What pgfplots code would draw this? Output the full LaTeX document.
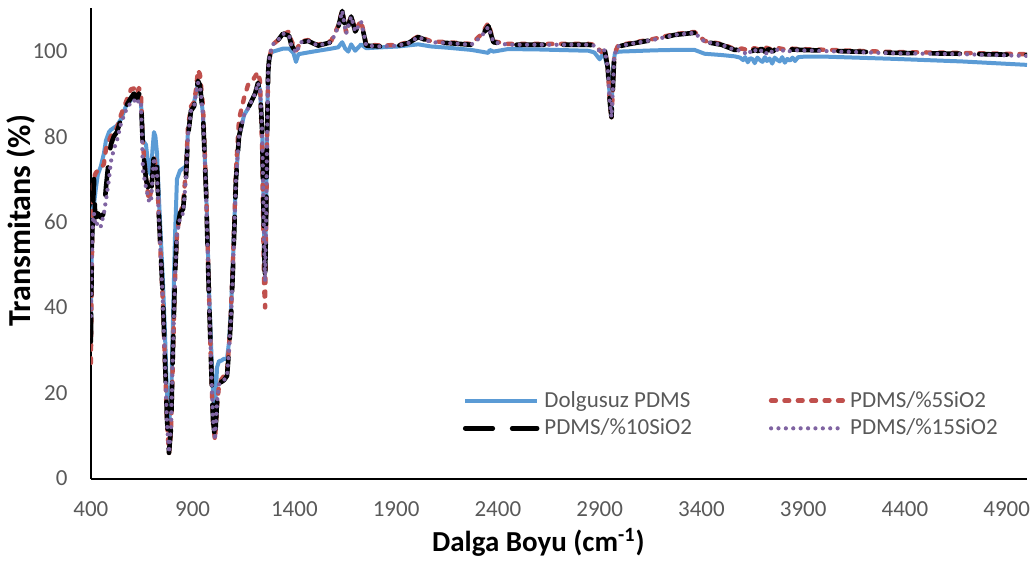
\documentclass[border=0pt]{standalone}
\usepackage{fontspec}
\setmainfont{Carlito}
\usepackage{pgfplots}
\usepackage{pgfplotstable}
\pgfplotsset{compat=1.18}

\definecolor{cBlue}{HTML}{5B9BD5}
\definecolor{cRed}{HTML}{C0504D}
\definecolor{cPurple}{HTML}{8064A2}
\definecolor{cText}{HTML}{595959}

% FTIR spectra: wavenumber (cm^-1) vs. transmittance (%)
\pgfplotstableread{
x y
400 35
405 55
410 63
415 64
420 66
425 68
434 71
449 73
464 76
474 79
489 81
498 81.5
513 82
528 82.5
548 84
572 87
597 88.5
612 89.5
626 89
636 89.5
646 88
656 79
671 78
685 72
695 71
703 77
710 81
717 80
725 76
734 66
744 56
754 46
764 34
774 20
784 13
794 18
803 36
813 56
823 70
838 72
853 72.5
867 73
877 81
892 86
907 88
917 90
926 92.5
936 92
951 85
966 68
980 45
990 32
1000 20
1010 16
1020 26
1030 27.5
1039 27.5
1054 28
1069 28
1079 32
1089 40
1099 52
1113 70
1128 80
1153 85
1172 86.5
1187 88
1207 90
1221 92
1231 91
1241 82
1246 72
1251 58
1256 50
1261 62
1266 82
1271 95
1276 98
1285 99.5
1295 99.8
1344 100.5
1374 100.5
1395 99.5
1408 97.4
1420 99.2
1467 99.6
1517 100
1581 100.5
1615 100.8
1635 102
1650 100.5
1665 99.8
1679 101.5
1699 100
1728 101.5
1753 100.6
1827 100.8
1910 101
2009 101.5
2072 101
2156 100.7
2269 100.2
2318 99.8
2353 99.5
2360 100.2
2378 99.8
2450 100.4
2600 100.3
2845 100
2874 99.6
2900 98
2920 99.5
2940 96
2950 89
2958 86
2966 96
2975 99.5
2997 99.8
3169 100.1
3268 100.2
3366 100.2
3416 99.3
3499 99
3563 98.7
3590 98.4
3605 97.8
3615 98.5
3628 97.3
3640 98.3
3652 98
3662 97.1
3675 98.4
3688 97.8
3700 97.4
3712 98.5
3722 97.6
3735 98.2
3748 97
3760 98.4
3772 97.9
3785 97.5
3797 98.5
3810 97.2
3822 98.1
3835 97.7
3848 98.4
3860 97.6
3875 98.5
3900 98.6
4025 98.6
4350 98.1
4680 97.5
5000 96.7
}\tblPure

\pgfplotstableread{
x y
400 27
405 50
410 68
415 70
420 71
425 71.5
434 72
449 72.5
464 73.5
474 77
489 79
498 80
513 81
528 82
548 85
572 88
597 91
612 91.2
626 90
636 91.3
646 90
656 78
671 70
685 65
695 67
710 75
725 72
734 61
744 51
754 41
764 27
774 13
784 6
794 11
803 28
813 46
823 57
838 62
853 64
867 72
877 82
892 87
907 88
917 91
926 95.5
936 94.5
951 87
966 68
980 44
990 27
1000 13
1010 9
1020 17
1030 22
1039 23
1054 24
1069 25
1079 31
1089 40
1099 52
1113 72
1128 84
1153 89
1172 92
1187 92.5
1207 94
1221 95
1231 93
1241 78
1246 62
1251 45
1256 40
1261 58
1266 80
1271 95
1276 98
1285 100
1295 101.5
1320 102.5
1344 103.8
1374 104.5
1384 102.5
1408 100
1433 102.2
1467 102.5
1517 101.4
1581 102.3
1615 105.8
1635 109.5
1654 104.3
1679 108.3
1699 104.8
1728 107
1753 101.5
1827 101.2
1910 101.4
1960 102
2009 103.4
2072 102.2
2156 102
2269 101.6
2318 103.8
2353 106.5
2378 102.2
2450 101.6
2600 101.6
2845 101.6
2874 101.4
2909 99.7
2925 100.4
2940 96
2950 88
2958 84
2964 90
2972 99.2
2990 101.2
3050 101.8
3169 102.8
3268 103.9
3366 104.4
3416 102.3
3499 101.6
3563 100.4
3600 100.5
3630 100.1
3660 100.6
3690 100.2
3720 100.7
3750 100.2
3780 100.6
3810 100.3
3840 100.5
3893 100.4
4025 100.2
4350 99.7
4680 99.5
5000 99.2
}\tblFive

\pgfplotstableread{
x y
400 32
405 55
410 62
415 70
420 63
425 61
434 62
449 61
464 62
474 68
489 75
498 78
513 80
528 81
548 84
572 87
597 89
612 90
626 88.5
636 90
646 89
656 77
671 70
685 67
695 66
710 76
725 73
734 62
744 52
754 42
764 28
774 14
784 6
794 12
803 30
813 47
823 58
838 62
853 63
867 70
877 80
892 86
907 87
917 90
926 93
936 92
951 85
966 67
980 43
990 28
1000 14
1010 9
1020 18
1030 22
1039 22.5
1054 23
1069 24
1079 30
1089 38
1099 50
1113 70
1128 80
1153 85.5
1172 86.5
1187 88
1207 90
1221 92.5
1231 91
1241 82
1246 70
1251 55
1256 46
1261 60
1266 80
1271 95
1276 98
1285 100
1295 101.5
1320 102.5
1344 104
1374 103.5
1384 101.5
1408 99.5
1433 102
1467 102.3
1517 101.2
1581 102
1615 105.5
1635 109.3
1654 104
1679 108
1699 104.5
1728 106.8
1753 101.2
1827 101
1910 101.2
1960 101.8
2009 103.2
2072 102
2156 101.8
2269 101.4
2318 103.3
2353 105.8
2378 102
2450 101.4
2600 101.4
2845 101.4
2874 101.2
2909 99.5
2925 100.2
2940 96
2950 88
2958 84.5
2964 90
2972 99
2990 101
3050 101.6
3169 102.6
3268 103.7
3366 104.2
3416 102.1
3499 101.4
3563 100.2
3590 100.3
3610 99.8
3625 100.4
3645 99.6
3660 100.3
3680 99.9
3695 100.5
3715 99.7
3730 100.4
3750 99.8
3765 100.5
3785 99.9
3800 100.4
3820 100
3845 100.3
3893 100.2
4025 100
4350 99.5
4680 99.3
5000 99
}\tblTen

\pgfplotstableread{
x y
400 38
405 52
410 60
415 62
420 60
425 59
434 60
449 59
464 62
474 65
489 70
498 74
513 77
528 79
548 83
572 86
597 88
612 88.5
626 87.5
636 88.5
646 88
656 72
671 68
685 65
695 64.5
710 75
725 71
734 61
744 51
754 41
764 27
774 13
784 6
794 12
803 29
813 46
823 57
838 61
853 62
867 70
877 80
892 86
907 87
917 90
926 92.5
936 92
951 85
966 67
980 43
990 28
1000 14
1010 9
1020 18
1030 22
1039 22.5
1054 23
1069 24
1079 30
1089 38
1099 50
1113 70
1128 80
1153 85
1172 86.5
1187 88
1207 90
1221 92.5
1231 91
1241 82
1246 70
1251 55
1256 46
1261 60
1266 80
1271 95
1276 98
1285 100
1295 101.5
1320 102.5
1344 104
1374 103.6
1384 101.5
1408 99.5
1433 102
1467 102.3
1517 101.2
1581 102
1615 105.5
1635 109.3
1654 104
1679 108
1699 104.5
1728 106.8
1753 101.2
1827 101
1910 101.2
1960 101.8
2009 103.2
2072 102
2156 101.8
2269 101.4
2318 103.3
2353 105.6
2378 102
2450 101.4
2600 101.4
2845 101.4
2874 101.2
2909 99.5
2925 100.2
2940 96
2950 88
2958 84.5
2964 90
2972 99
2990 101
3050 101.6
3169 102.6
3268 103.7
3366 104.2
3416 102.1
3499 101.4
3563 100.2
3595 100
3612 99.4
3630 100.2
3648 99.3
3665 100.1
3682 99.5
3700 100.3
3718 99.4
3735 100.2
3752 99.5
3770 100.3
3788 99.6
3805 100.2
3825 99.8
3850 100.1
3893 100.1
4025 99.9
4350 99.4
4680 99.2
5000 98.8
}\tblFifteen

\begin{document}
\begin{tikzpicture}
\begin{axis}[
  name=main,
  scale only axis,
  width=468.5pt, height=235.5pt,
  xmin=400, xmax=5000, ymin=0, ymax=110,
  axis lines=left,
  axis line style={-, line width=1pt, black},
  xtick={400,900,...,4900},
  ytick={0,20,...,100},
  major tick length=0pt,
  scaled ticks=false,
  /pgf/number format/assume math mode=true,
  /pgf/number format/1000 sep={},
  tick label style={font=\fontsize{11.5}{13}\selectfont, text=cText, inner sep=0pt},
  xticklabel style={anchor=north, yshift=-11.5pt},
  yticklabel style={anchor=east, xshift=-11.5pt},
  xlabel={Dalga Boyu (cm\textsuperscript{-1})},
  ylabel={Transmitans (\%)},
  xlabel style={font=\bfseries\fontsize{14.5}{16}\selectfont, text=black,
    at={(axis description cs:0.478,-0.136)}, anchor=center},
  ylabel style={font=\bfseries\fontsize{16}{18}\selectfont, text=black,
    at={(axis description cs:-0.0747,0.548)}, anchor=center},
  legend columns=2,
  legend cell align=left,
  legend image code/.code={\draw[#1] (0pt,0pt) -- (36pt,0pt);},
  legend style={
    at={(axis description cs:0.397,0.196)}, anchor=north west,
    draw=none, fill=none, inner sep=0pt,
    font=\fontsize{11.5}{13}\selectfont, text=cText,
    row sep=0pt,
    nodes={inner ysep=2.2pt, inner xsep=2.5pt},
    /tikz/every even column/.append style={column sep=36pt},
  },
]
\addplot[cBlue, line width=2pt, line join=round] table[x=x, y=y] {\tblPure};
\addlegendentry{Dolgusuz PDMS}
\addplot[cRed, line width=2.2pt, line cap=round, line join=round,
  dash pattern=on 2.4pt off 4.3pt] table[x=x, y=y] {\tblFive};
\addlegendentry{PDMS/\%5SiO2}
\addplot[black, line width=2.3pt, line cap=round, line join=round,
  dash pattern=on 13.8pt off 9.7pt] table[x=x, y=y] {\tblTen};
\addlegendentry{PDMS/\%10SiO2}
\addplot[cPurple, line width=2.1pt, line cap=round, line join=round,
  dash pattern=on 0pt off 3.7pt] table[x=x, y=y] {\tblFifteen};
\addlegendentry{PDMS/\%15SiO2}
\end{axis}
% page frame around the axis box and its labels
\path ([shift={(-45pt,-40.5pt)}]main.south west) rectangle ([shift={(3.5pt,4pt)}]main.north east);
\end{tikzpicture}
\end{document}
